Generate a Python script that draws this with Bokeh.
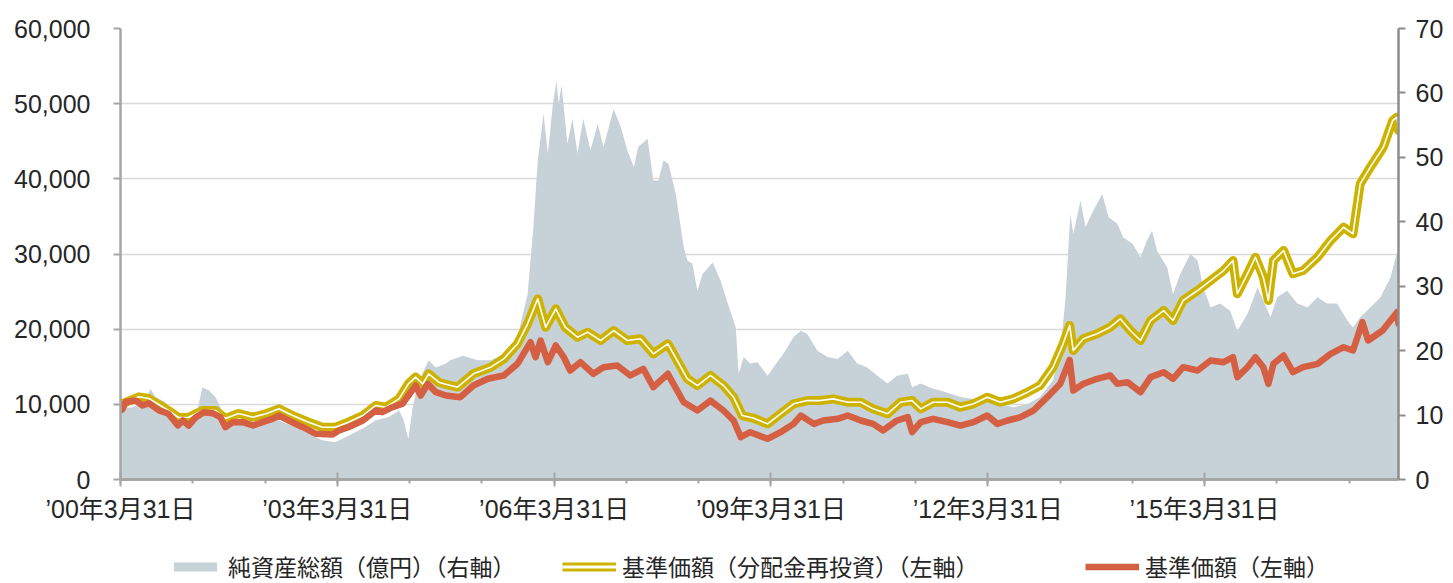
from bokeh.plotting import figure
from bokeh.layouts import column
from bokeh.models import (Range1d, LinearAxis, FixedTicker, NumeralTickFormatter,
                          Legend, LegendItem)
from bokeh.embed import file_html
from bokeh.resources import INLINE

# ---------------- data (decimal years) ----------------
nav_t = [2000.25, 2000.42, 2000.60, 2000.66, 2000.73, 2000.87, 2000.97, 2001.05, 2001.15, 2001.25,
         2001.31, 2001.38, 2001.47, 2001.56, 2001.63, 2001.70, 2001.84, 2002.02, 2002.21, 2002.39,
         2002.49, 2002.67, 2002.85, 2003.04, 2003.22, 2003.40, 2003.60, 2003.78, 2003.96, 2004.10,
         2004.16, 2004.23, 2004.29, 2004.36, 2004.51, 2004.61, 2004.75, 2004.81, 2004.99, 2005.19,
         2005.37, 2005.55, 2005.74, 2005.88, 2005.96, 2006.02, 2006.06, 2006.10, 2006.16, 2006.23,
         2006.28, 2006.31, 2006.35, 2006.43, 2006.50, 2006.57, 2006.65, 2006.75, 2006.85, 2006.93,
         2007.07, 2007.17, 2007.26, 2007.35, 2007.41, 2007.54, 2007.62, 2007.69, 2007.76, 2007.83,
         2007.93, 2008.04, 2008.09, 2008.16, 2008.23, 2008.30, 2008.44, 2008.55, 2008.65, 2008.76,
         2008.80, 2008.87, 2008.96, 2009.06, 2009.20, 2009.28, 2009.42, 2009.56, 2009.66, 2009.75,
         2009.89, 2010.03, 2010.17, 2010.31, 2010.44, 2010.58, 2010.72, 2010.86, 2010.99, 2011.14,
         2011.20, 2011.32, 2011.49, 2011.59, 2011.73, 2011.87, 2012.05, 2012.24, 2012.42, 2012.60,
         2012.80, 2012.97, 2013.15, 2013.25, 2013.32, 2013.39, 2013.43, 2013.53, 2013.60, 2013.71,
         2013.83, 2013.92, 2014.04, 2014.12, 2014.25, 2014.36, 2014.45, 2014.52, 2014.59, 2014.73,
         2014.81, 2014.91, 2015.05, 2015.15, 2015.23, 2015.33, 2015.46, 2015.60, 2015.70, 2015.84,
         2015.98, 2016.06, 2016.16, 2016.25, 2016.39, 2016.53, 2016.67, 2016.81, 2016.94, 2017.08,
         2017.22, 2017.30, 2017.40, 2017.54, 2017.68, 2017.82, 2017.93]
nav_v = [11.0, 11.2, 12.3, 14.1, 12.8, 12.0, 10.4, 9.2, 10.2, 9.7,
         10.7, 14.3, 13.8, 12.8, 11.2, 8.9, 9.2, 8.6, 9.2, 9.4,
         8.9, 8.1, 7.1, 6.1, 5.8, 6.8, 7.9, 9.2, 9.7, 10.7,
         9.4, 6.3, 11.2, 14.9, 18.5, 17.4, 18.0, 18.5, 19.2, 18.5,
         18.5, 19.5, 22.1, 28.8, 39.2, 49.5, 53.1, 56.8, 50.6, 58.3,
         61.9, 58.3, 61.2, 52.1, 56.0, 50.6, 56.0, 51.1, 55.2, 51.6,
         57.5, 54.7, 51.1, 48.5, 51.6, 52.9, 46.4, 46.4, 49.5, 49.0,
         44.3, 36.1, 34.0, 33.5, 29.3, 31.9, 33.7, 30.9, 27.3, 23.6,
         16.4, 19.0, 18.0, 18.2, 16.1, 17.4, 19.5, 22.1, 23.1, 22.6,
         20.0, 19.0, 18.7, 20.0, 18.0, 17.4, 16.1, 14.9, 16.1, 16.4,
         14.3, 14.9, 14.1, 13.8, 13.3, 12.8, 12.5, 12.3, 11.7, 11.2,
         11.7, 12.8, 15.4, 20.0, 27.8, 41.2, 38.1, 43.3, 39.2, 41.8,
         44.3, 40.7, 39.7, 37.6, 36.6, 34.5, 37.1, 38.6, 35.5, 32.9,
         28.8, 31.9, 35.0, 34.0, 29.8, 26.7, 27.3, 26.2, 23.1, 25.7,
         29.8, 27.8, 25.2, 28.3, 29.3, 27.3, 26.7, 28.3, 27.3, 27.3,
         24.7, 23.6, 25.2, 26.7, 28.3, 31.4, 36.1]

reinv_t = [2000.25, 2000.50, 2000.64, 2000.91, 2001.05, 2001.19, 2001.38, 2001.56, 2001.70, 2001.88,
           2002.08, 2002.26, 2002.44, 2002.63, 2002.85, 2003.04, 2003.22, 2003.40, 2003.60, 2003.78,
           2003.92, 2004.10, 2004.23, 2004.33, 2004.43, 2004.51, 2004.65, 2004.72, 2004.91, 2005.13,
           2005.37, 2005.55, 2005.74, 2005.88, 2006.02, 2006.13, 2006.27, 2006.40, 2006.57, 2006.71,
           2006.89, 2007.07, 2007.26, 2007.44, 2007.62, 2007.82, 2007.95, 2008.09, 2008.23, 2008.41,
           2008.59, 2008.73, 2008.85, 2009.00, 2009.20, 2009.38, 2009.56, 2009.75, 2009.93, 2010.11,
           2010.31, 2010.49, 2010.66, 2010.86, 2011.04, 2011.20, 2011.32, 2011.49, 2011.69, 2011.87,
           2012.05, 2012.24, 2012.42, 2012.60, 2012.80, 2012.97, 2013.15, 2013.29, 2013.38, 2013.43,
           2013.57, 2013.76, 2013.94, 2014.08, 2014.22, 2014.36, 2014.50, 2014.68, 2014.81, 2014.95,
           2015.15, 2015.33, 2015.51, 2015.64, 2015.70, 2015.84, 2015.95, 2016.06, 2016.13, 2016.20,
           2016.34, 2016.47, 2016.61, 2016.81, 2016.99, 2017.17, 2017.30, 2017.40, 2017.54, 2017.72,
           2017.85, 2017.91, 2017.93]
reinv_v = [10000, 11000, 10780, 9180, 8250, 8290, 9180, 9180, 8110, 8780,
           8290, 8740, 9400, 8510, 7630, 6960, 6960, 7630, 8510, 9850,
           9620, 10730, 12730, 13620, 12730, 14060, 12950, 12730, 12280, 14060,
           14940, 16050, 18050, 20710, 24040, 20260, 22710, 20260, 18930, 19600,
           18490, 19820, 18490, 18720, 16720, 18050, 15830, 13400, 12500, 13840,
           12500, 10950, 8510, 8180, 7400, 8740, 10070, 10500, 10500, 10730,
           10280, 10280, 9400, 8740, 10280, 10500, 9400, 10280, 10280, 9620,
           10070, 10950, 10280, 10730, 11620, 12500, 14940, 18050, 20500, 17160,
           18720, 19380, 20260, 21380, 19820, 18490, 21150, 22480, 21150, 23810,
           25140, 26470, 27800, 29130, 24710, 27370, 29570, 26910, 23810, 29130,
           30460, 27370, 27800, 29570, 31790, 33560, 32680, 39330, 41550, 44210,
           47760, 48200, 46430]

price_t = [2000.25, 2000.27, 2000.32, 2000.46, 2000.55, 2000.64, 2000.78, 2000.91, 2001.04, 2001.11,
           2001.19, 2001.29, 2001.40, 2001.52, 2001.63, 2001.70, 2001.80, 2001.94, 2002.08, 2002.21,
           2002.35, 2002.44, 2002.57, 2002.77, 2002.95, 2003.18, 2003.27, 2003.40, 2003.60, 2003.78,
           2003.87, 2004.01, 2004.15, 2004.23, 2004.33, 2004.40, 2004.50, 2004.61, 2004.75, 2004.95,
           2005.13, 2005.33, 2005.55, 2005.74, 2005.92, 2005.99, 2006.06, 2006.16, 2006.27, 2006.38,
           2006.47, 2006.61, 2006.79, 2006.93, 2007.12, 2007.30, 2007.48, 2007.62, 2007.82, 2008.04,
           2008.23, 2008.41, 2008.59, 2008.73, 2008.83, 2008.96, 2009.20, 2009.38, 2009.56, 2009.66,
           2009.84, 2009.97, 2010.17, 2010.31, 2010.49, 2010.66, 2010.80, 2010.99, 2011.14, 2011.20,
           2011.32, 2011.49, 2011.69, 2011.87, 2012.05, 2012.24, 2012.38, 2012.52, 2012.70, 2012.88,
           2013.07, 2013.25, 2013.38, 2013.43, 2013.57, 2013.76, 2013.94, 2014.04, 2014.18, 2014.36,
           2014.50, 2014.68, 2014.81, 2014.95, 2015.15, 2015.33, 2015.51, 2015.64, 2015.70, 2015.84,
           2015.95, 2016.06, 2016.13, 2016.20, 2016.34, 2016.47, 2016.61, 2016.81, 2016.99, 2017.17,
           2017.30, 2017.43, 2017.51, 2017.71, 2017.91, 2017.93]
price_v = [10000, 9300, 10300, 10500, 9850, 10150, 9200, 8750, 7200, 7850,
           7180, 8290, 8960, 8820, 8290, 6960, 7630, 7630, 7180, 7630,
           8070, 8510, 7850, 6960, 6080, 5990, 6520, 6960, 7850, 9180,
           8960, 9620, 10100, 11170, 12500, 11170, 12730, 11620, 11170, 10950,
           12500, 13400, 13840, 15390, 18270, 16270, 18490, 15610, 17830, 16270,
           14500, 15610, 14060, 14940, 15170, 13840, 14730, 12280, 14060, 10280,
           9180, 10500, 9180, 7850, 5630, 6290, 5410, 6290, 7400, 8510,
           7400, 7850, 8070, 8510, 7850, 7400, 6520, 7850, 8290, 6290,
           7630, 8070, 7630, 7180, 7630, 8510, 7400, 7850, 8290, 9180,
           10950, 12730, 15900, 11840, 12730, 13400, 13840, 12730, 12950, 11620,
           13620, 14280, 13400, 14940, 14500, 15830, 15610, 16270, 13620, 14940,
           16270, 14940, 12730, 15390, 16490, 14280, 14940, 15390, 16720, 17600,
           17160, 20930, 18490, 19820, 22260, 20750]

left_ticks = [0, 10000, 20000, 30000, 40000, 50000, 60000]
right_ticks = [0, 10, 20, 30, 40, 50, 60, 70]
x_major = [2000.247, 2003.247, 2006.247, 2009.247, 2012.247, 2015.247]
x_labels = ["’00年3月31日", "’03年3月31日", "’06年3月31日", "’09年3月31日", "’12年3月31日", "’15年3月31日"]
x_minor = [2000.247 + k for k in range(18)]

name_nav = "純資産総額（億円）（右軸）"
name_reinv = "基準価額（分配金再投資）（左軸）"
name_price = "基準価額（左軸）"

# ---------------- styling ----------------
GRAY = "#C7D1D8"
YELLOW = "#CDB300"
RED = "#D45F42"
TICK_FONT = "'Liberation Sans', 'Noto Sans CJK JP'"
JP_FONT = "'Noto Sans CJK JP'"
TXT = "#262626"
W = 1453
NAN = float("nan")

p = figure(width=W, height=530, output_backend="svg", toolbar_location=None,
           x_range=Range1d(2000.247, 2017.93), y_range=Range1d(0, 60000),
           min_border_left=120, min_border_right=55, min_border_top=28, min_border_bottom=51)
p.extra_y_ranges = {"right": Range1d(0, 70)}
p.outline_line_color = None
p.background_fill_color = "white"
p.border_fill_color = "white"

# left axis
ly = p.yaxis[0]
ly.ticker = FixedTicker(ticks=left_ticks)
ly.formatter = NumeralTickFormatter(format="0,0")
ly.axis_line_color = "#A6A6A6"
ly.axis_line_width = 2.5
ly.major_tick_line_color = "#A6A6A6"
ly.major_tick_line_width = 2
ly.major_tick_in = 0
ly.major_tick_out = 7
ly.minor_tick_line_color = None
ly.major_label_standoff = 23
ly.major_label_text_font = TICK_FONT
ly.major_label_text_font_size = "25px"
ly.major_label_text_color = TXT

# right axis
ry = LinearAxis(y_range_name="right", ticker=FixedTicker(ticks=right_ticks))
ry.axis_line_color = "#8C8C8C"
ry.axis_line_width = 2.5
ry.major_tick_line_color = "#8C8C8C"
ry.major_tick_line_width = 2
ry.major_tick_in = 0
ry.major_tick_out = 7
ry.minor_tick_line_color = None
ry.major_label_standoff = 10
ry.major_label_text_font = TICK_FONT
ry.major_label_text_font_size = "25px"
ry.major_label_text_color = TXT
p.add_layout(ry, "right")

# x axis
xa = p.xaxis[0]
xa.ticker = FixedTicker(ticks=x_major, minor_ticks=x_minor)
xa.major_label_overrides = {t: s for t, s in zip(x_major, x_labels)}
xa.axis_line_color = "#A6A6A6"
xa.axis_line_width = 3
xa.major_tick_line_color = "#A6A6A6"
xa.major_tick_line_width = 2
xa.major_tick_in = 7
xa.major_tick_out = 7
xa.minor_tick_line_color = "#A6A6A6"
xa.minor_tick_line_width = 2
xa.minor_tick_in = 0
xa.minor_tick_out = 4
xa.major_label_standoff = 8
xa.major_label_text_font = TICK_FONT
xa.major_label_text_font_size = "25px"
xa.major_label_text_color = TXT

p.xgrid.grid_line_color = None
p.ygrid.ticker = FixedTicker(ticks=left_ticks[1:])
p.ygrid.grid_line_color = "#D9D9D9"
p.ygrid.grid_line_width = 1.5

# glyphs
p.varea(x=nav_t, y1=[0] * len(nav_t), y2=nav_v, y_range_name="right",
        fill_color=GRAY, fill_alpha=1.0)
p.line(reinv_t, reinv_v, line_color=YELLOW, line_width=9, line_join="round", line_cap="round")
p.line(reinv_t, reinv_v, line_color="white", line_width=1.6, line_join="round", line_cap="round")
p.line(price_t, price_v, line_color=RED, line_width=6.5, line_join="round", line_cap="round")

# ---------------- legend strip (separate figure below the chart) ----------------
# its frame is aligned with the chart's frame (left edge at page x = 120)
lgp = figure(width=W, height=53, output_backend="svg", toolbar_location=None,
             x_axis_type=None, y_axis_type=None, x_range=Range1d(0, 1), y_range=Range1d(0, 1),
             min_border=0, min_border_left=0, min_border_right=0, min_border_top=0, min_border_bottom=0)
lgp.outline_line_color = None
lgp.background_fill_color = "white"
lgp.border_fill_color = "white"
k_area = lgp.varea(x=[NAN], y1=[NAN], y2=[NAN], fill_color=GRAY, fill_alpha=1.0)
k_y1 = lgp.line(x=[NAN], y=[NAN], line_color=YELLOW, line_width=9)
k_y2 = lgp.line(x=[NAN], y=[NAN], line_color="white", line_width=3)
k_red = lgp.line(x=[NAN], y=[NAN], line_color=RED, line_width=6.5)


def make_legend(label, renderers, x):
    lg = Legend(items=[LegendItem(label=label, renderers=renderers, index=0)], location=(x, 0),
                orientation="horizontal", padding=0, margin=0, border_line_color=None,
                background_fill_alpha=0, glyph_width=54, glyph_height=11, label_standoff=6,
                label_text_font=JP_FONT, label_text_font_size="23px", label_text_color=TXT)
    lgp.add_layout(lg)


make_legend(name_nav, [k_area], 48)
make_legend(name_reinv, [k_y1, k_y2], 442)
make_legend(name_price, [k_red], 965)

layout = column(p, lgp, spacing=0)
open("out.html", "w").write(file_html(layout, INLINE))
